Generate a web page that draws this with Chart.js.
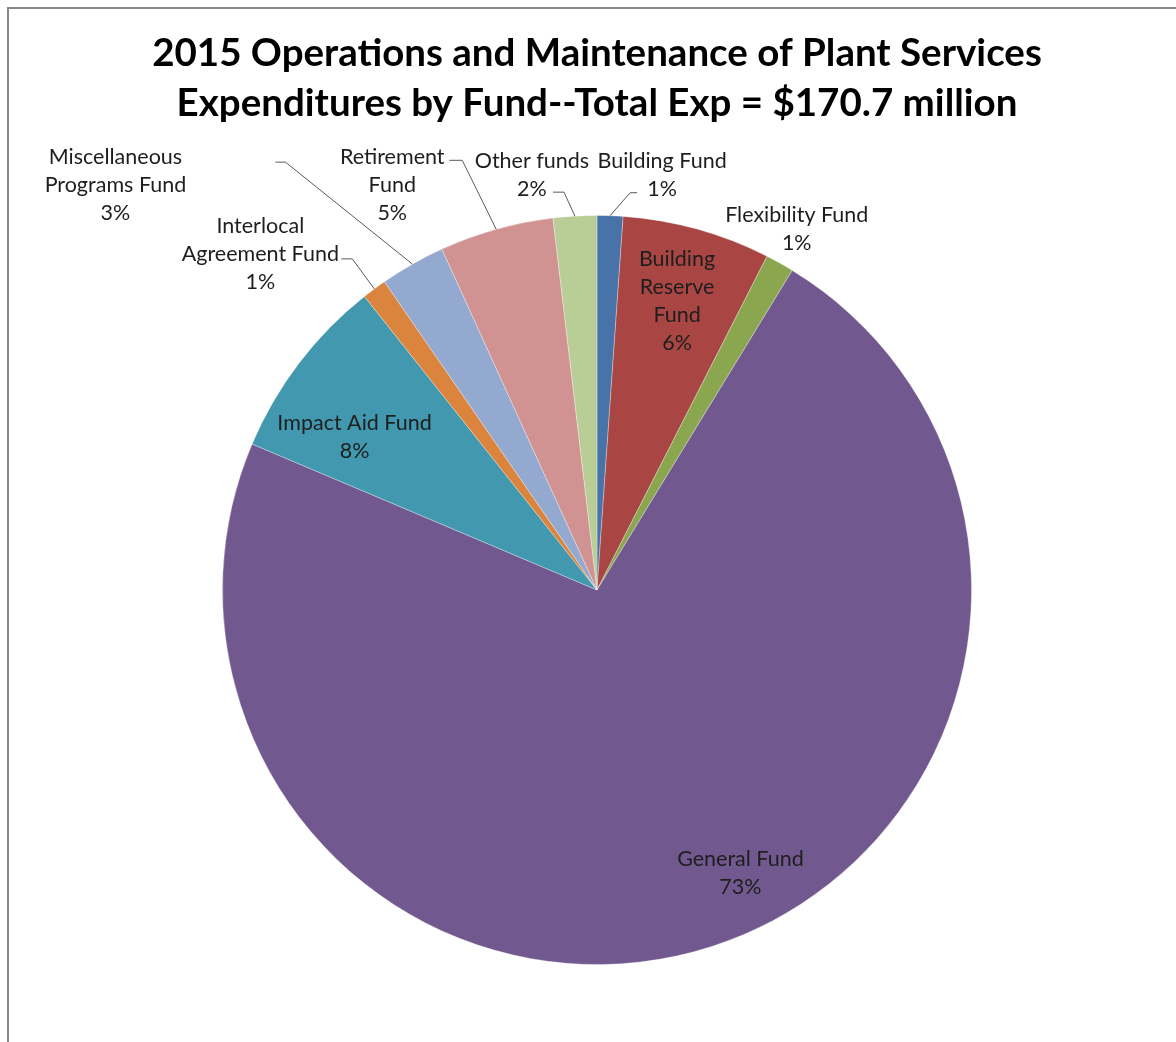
<!DOCTYPE html>
<html>
<head>
<meta charset="utf-8">
<script src="https://cdn.jsdelivr.net/npm/chart.js@4/dist/chart.umd.min.js"></script>
<style>
    html, body { margin: 0; padding: 0; background: #fff; }
    #wrap { width: 1176px; height: 1042px; }
</style>
</head>
<body>
<div id="wrap"><canvas id="myChart" width="1176" height="1042"></canvas></div>
<script>
// chart data (millions of dollars)
const titleLines = [
    '2015 Operations and Maintenance of Plant Services',
    'Expenditures by Fund--Total Exp = $170.7 million'
]
const funds = [
    'Building Fund',
    'Building Reserve Fund',
    'Flexibility Fund',
    'General Fund',
    'Impact Aid Fund',
    'Interlocal Agreement Fund',
    'Miscellaneous Programs Fund',
    'Retirement Fund',
    'Other funds'
]
const expMillions = [1.9, 10.9, 2.1, 124.0, 13.6, 1.8, 4.8, 8.4, 3.2]
// how each data label wraps
const labelText = [
    ['Building Fund'],
    ['Building', 'Reserve', 'Fund'],
    ['Flexibility Fund'],
    ['General Fund'],
    ['Impact Aid Fund'],
    ['Interlocal', 'Agreement Fund'],
    ['Miscellaneous', 'Programs Fund'],
    ['Retirement', 'Fund'],
    ['Other funds']
]
const fundColors = [
    '#4773a9', '#a94643', '#8aa64e', '#71588f', '#4198af',
    '#db843d', '#93a9cf', '#d19392', '#b9cd96'
]

// label placement: inside labels sit at k * radius on the mid angle,
// outside labels are offset from the slice edge, leader = [elbow, stubEnd]
const labelPlace = [
    { k: 1, off: [52, -41], leader: [[20, -23], [27, -23]] },
    { k: 0.8, off: [0, 0] },
    { k: 1, off: [17, -34] },
    { k: 0.85, off: [46, -20] },
    { k: 0.77, off: [-13, 22] },
    { k: 1, off: [-114, -35], leader: [[-22, -30], [-33, -30]] },
    { k: 1, off: [-297, -79], leader: [[-127, -102], [-137, -102]] },
    { k: 1, off: [-104, -44], leader: [[-34, -69], [-47, -69]] },
    { k: 1, off: [-43, -41], leader: [[-11, -24], [-22, -24]] }
]

const total = expMillions.reduce((a, b) => a + b, 0)

const frameAndLabels = {
    id: 'frameAndLabels',
    beforeDraw(chart) {
        const ctx = chart.ctx
        ctx.save()
        ctx.fillStyle = '#fff'
        ctx.fillRect(0, 0, chart.width, chart.height)
        ctx.strokeStyle = '#888'
        ctx.lineWidth = 2
        ctx.beginPath()
        ctx.moveTo(8, chart.height + 5)
        ctx.lineTo(8, 8)
        ctx.lineTo(chart.width + 5, 8)
        ctx.stroke()
        ctx.restore()
    },
    afterDraw(chart) {
        const ctx = chart.ctx
        const area = chart.chartArea
        const cx = (area.left + area.right) / 2
        ctx.save()
        // title
        ctx.fillStyle = '#000'
        ctx.font = 'bold 38.5px Lato'
        ctx.textAlign = 'center'
        ctx.textBaseline = 'alphabetic'
        ctx.fillText(titleLines[0], cx, 66)
        ctx.fillText(titleLines[1], cx, 116)

        // data labels
        ctx.font = '21.5px Lato'
        ctx.textBaseline = 'middle'
        const lh = 28
        chart.getDatasetMeta(0).data.forEach((arc, i) => {
            const p = arc.getProps(['x', 'y', 'startAngle', 'endAngle', 'outerRadius'], true)
            const mid = (p.startAngle + p.endAngle) / 2
            const place = labelPlace[i]
            const ax = p.x + Math.cos(mid) * p.outerRadius * place.k
            const ay = p.y + Math.sin(mid) * p.outerRadius * place.k
            const lines = labelText[i].concat(Math.round(expMillions[i] / total * 100) + '%')
            const tx = ax + place.off[0]
            const ty = ay + place.off[1] - (lines.length - 1) * lh / 2
            ctx.fillStyle = '#1e1e1e'
            lines.forEach((s, j) => ctx.fillText(s, tx, ty + j * lh))
            if (place.leader) {
                ctx.strokeStyle = '#595959'
                ctx.lineWidth = 1
                ctx.beginPath()
                ctx.moveTo(ax, ay)
                place.leader.forEach(pt => ctx.lineTo(ax + pt[0], ay + pt[1]))
                ctx.stroke()
            }
        })
        ctx.restore()
    }
}

new Chart(document.getElementById('myChart'), {
    type: 'pie',
    data: {
        labels: funds,
        datasets: [{
            data: expMillions,
            backgroundColor: fundColors,
            borderColor: 'rgba(255,255,255,0.3)',
            borderWidth: 1
        }]
    },
    options: {
        responsive: false,
        animation: false,
        layout: {
            padding: { left: 222, top: 215, right: 204, bottom: 77 }
        },
        plugins: {
            legend: { display: false },
            tooltip: { enabled: false },
            title: { display: false }
        }
    },
    plugins: [frameAndLabels]
})
</script>
</body>
</html>
